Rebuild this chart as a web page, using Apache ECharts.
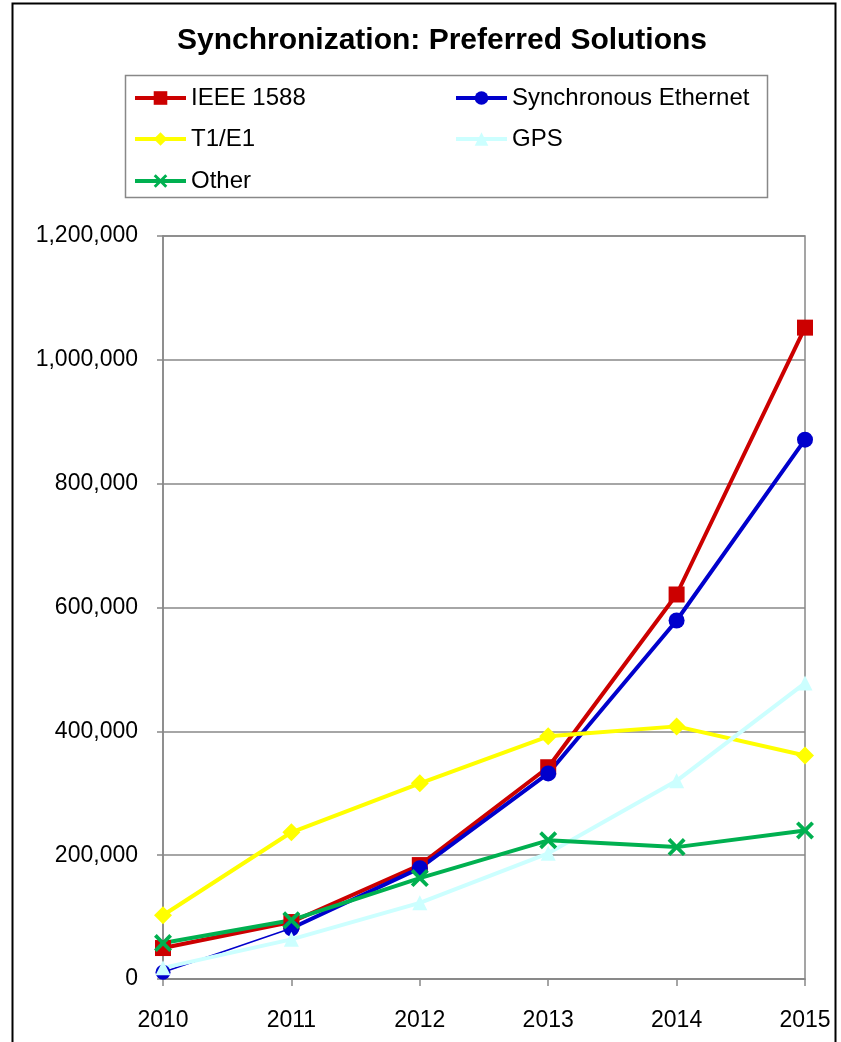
<!DOCTYPE html>
<html><head><meta charset="utf-8">
<script src="https://cdn.jsdelivr.net/npm/echarts@6/dist/echarts.min.js"></script>
<style>html,body{margin:0;padding:0;background:#fff}#c{width:841px;height:1042px}</style>
</head><body><div id="c"></div>
<script>
const years = ['2010','2011','2012','2013','2014','2015'];
const ieee1588 = [50000, 92000, 184000, 342000, 621000, 1052000];
const syncEthernet = [11000, 82000, 179000, 332000, 579000, 871000];
const t1e1 = [103000, 237000, 316000, 392000, 408000, 361000];
const gps = [18000, 64000, 123000, 203000, 320000, 478000];
const other = [58000, 95000, 163000, 224000, 213000, 240000];
const yTicks = [0, 200000, 400000, 600000, 800000, 1000000, 1200000];

const font = 'Liberation Sans, Arial, sans-serif';
const xSym = 'path://M0,1.5L1.5,0L5,3.5L8.5,0L10,1.5L6.5,5L10,8.5L8.5,10L5,6.5L1.5,10L0,8.5L3.5,5Z';

function line(name, data, color, symbol, size, extra) {
  return Object.assign({
    name, type: 'line', data, symbol, symbolSize: size,
    showAllSymbol: true,
    lineStyle: {color, width: 4}, itemStyle: {color},
    emphasis: {disabled: true}, animation: false
  }, extra || {});
}
const synMain = syncEthernet.map((v, i) => i === 0 ? null : v);
const synThin = syncEthernet.map((v, i) => i <= 1 ? v : null);

const fmt = v => v.toLocaleString('en-US');
const chart = echarts.init(document.getElementById('c'));
const legendBase = (name, left, top) => ({
  data: [name], left, top, itemWidth: 51, itemHeight: 17, itemGap: 0, padding: 0,
  lineStyle: {width: 4},
  textStyle: {fontFamily: font, fontSize: 24, color: '#000'},
  selectedMode: false
});
chart.setOption({
  backgroundColor: '#fff',
  title: {text: 'Synchronization: Preferred Solutions', left: 442, textAlign: 'center', top: 26, padding: 0,
    textStyle: {fontFamily: font, fontWeight: 'bold', fontSize: 30, color: '#000'}},
  legend: [
    legendBase('IEEE 1588', 133, 86),
    legendBase('Synchronous Ethernet', 454, 86),
    legendBase('T1/E1', 133, 127),
    legendBase('GPS', 454, 127),
    legendBase('Other', 133, 169)
  ],
  graphic: [
    {type: 'rect', shape: {x: 12.5, y: 3.5, width: 823, height: 1050}, style: {fill: null, stroke: '#000', lineWidth: 2}, silent: true},
    {type: 'rect', shape: {x: 125.5, y: 75.5, width: 642, height: 122}, style: {fill: null, stroke: '#888', lineWidth: 1.5}, silent: true}
  ],
  grid: {left: 163, right: 36, top: 236, bottom: 63, show: true, borderColor: '#888', borderWidth: 1.5},
  xAxis: {type: 'category', data: years, boundaryGap: false,
    axisLine: {lineStyle: {color: '#888', width: 1.5}},
    axisTick: {show: true, length: 7, lineStyle: {color: '#888', width: 1.5}},
    axisLabel: {fontFamily: font, fontSize: 23, color: '#000', margin: 30},
    splitLine: {show: false}},
  yAxis: {type: 'value', min: 0, max: 1200000, interval: 200000,
    axisLine: {show: true, lineStyle: {color: '#888', width: 1.5}},
    axisTick: {show: true, length: 6, lineStyle: {color: '#888', width: 1.5}},
    axisLabel: {fontFamily: font, fontSize: 23, color: '#000', margin: 25,
      formatter: v => yTicks.includes(v) ? fmt(v) : ''},
    splitLine: {lineStyle: {color: '#888', width: 1.5}}},
  series: [
    line('IEEE 1588', ieee1588, '#CC0000', 'rect', 16),
    line('Synchronous Ethernet', synMain, '#0000CC', 'circle', 16),
    line('SyncThin', synThin, '#0000CC', 'circle', 15, {lineStyle: {color: '#0000CC', width: 1.5}}),
    line('T1/E1', t1e1, '#FFFF00', 'diamond', 18),
    line('GPS', gps, '#CCFFFF', 'triangle', 15),
    line('Other', other, '#00B050', xSym, 18)
  ]
});
</script></body></html>
